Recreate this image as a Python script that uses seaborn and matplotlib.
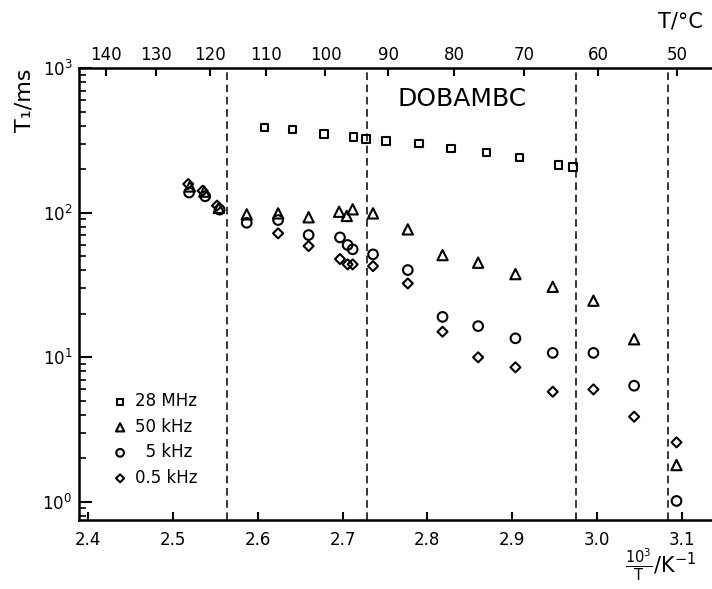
import numpy as np
import matplotlib
matplotlib.use("Agg")
import matplotlib.pyplot as plt
from matplotlib.ticker import LogLocator, NullFormatter, FixedLocator
import seaborn as sns

# Reciprocal temperature (10^3/T in K^-1) and spin-lattice relaxation time T1 (ms)
inv_T_28MHz = [2.608, 2.641, 2.678, 2.713, 2.728, 2.751, 2.790, 2.828, 2.870, 2.909, 2.955, 2.972]
T1_28MHz = [390, 378, 352, 336, 325, 315, 302, 279, 262, 242, 214, 207]

inv_T_50kHz = [2.520, 2.537, 2.554, 2.587, 2.624, 2.660, 2.696, 2.705, 2.712, 2.736,
               2.777, 2.818, 2.860, 2.904, 2.948, 2.996, 3.044, 3.094]
T1_50kHz = [152, 140, 108, 97.5, 99, 93, 101.6, 95, 105.6, 99,
            76.7, 50.9, 45.1, 37.6, 30.7, 24.6, 13.3, 1.79]

inv_T_5kHz = [2.519, 2.538, 2.555, 2.587, 2.624, 2.660, 2.697, 2.706, 2.712, 2.736,
              2.777, 2.818, 2.860, 2.904, 2.948, 2.996, 3.044, 3.094]
T1_5kHz = [138, 130, 105, 85.2, 89, 70.1, 67.5, 59.8, 55.8, 51.5,
           40.1, 19.0, 16.4, 13.5, 10.7, 10.7, 6.34, 1.01]

inv_T_05kHz = [2.518, 2.535, 2.552, 2.624, 2.660, 2.697, 2.706, 2.712, 2.736,
               2.777, 2.818, 2.860, 2.904, 2.948, 2.996, 3.044, 3.094]
T1_05kHz = [158, 142, 112, 72, 58.8, 47.8, 43.9, 43.9, 42.7,
            32.4, 15.0, 9.97, 8.5, 5.76, 5.98, 3.87, 2.57]

series_labels = ["28 MHz", "50 kHz", "\u20075 kHz", "0.5 kHz"]

# Phase transition temperatures (10^3/T)
transition_x = [2.5636, 2.7287, 2.9755, 3.084]

# Celsius ticks on the top axis
temps_C = [140, 130, 120, 110, 100, 90, 80, 70, 60, 50]
x_ticks = [2.4, 2.5, 2.6, 2.7, 2.8, 2.9, 3.0, 3.1]

sns.set_theme(style="ticks")
plt.rcParams["font.family"] = ["DejaVu Sans"]
plt.rcParams["mathtext.fontset"] = "dejavusans"
for key in ["text.color", "axes.labelcolor", "xtick.color", "ytick.color",
            "axes.edgecolor"]:
    plt.rcParams[key] = "black"

fig = plt.figure(figsize=(7.12, 5.89), dpi=100)
ax = fig.add_axes([0.1114, 0.1171, 0.8935, 0.7669])

series = [
    (inv_T_28MHz, T1_28MHz, "s", 30),
    (inv_T_50kHz, T1_50kHz, "^", 55),
    (inv_T_5kHz, T1_5kHz, "o", 48),
    (inv_T_05kHz, T1_05kHz, "D", 26),
]
for (xs, ys, m, s), lab in zip(series, series_labels):
    sns.scatterplot(x=xs, y=ys, marker=m, s=s, facecolor="none",
                    edgecolor="black", linewidth=1.5, ax=ax, label=lab, zorder=3)

for xt in transition_x:
    ax.axvline(xt, color="black", lw=1.1, ls=(0, (5, 3)), zorder=2)

ax.set_yscale("log")
ax.set_xlim(2.3895, 3.14)
ax.set_ylim(0.745, 1000)
ax.set_xticks(x_ticks)
ax.set_xticklabels([f"{v:.1f}" for v in x_ticks])
ax.yaxis.set_major_locator(LogLocator(base=10, numticks=10))
ax.yaxis.set_minor_locator(LogLocator(base=10, subs=np.arange(2, 10), numticks=20))
ax.yaxis.set_minor_formatter(NullFormatter())
ax.set_xlabel("")
ax.set_ylabel("")

ax.tick_params(axis="x", which="major", direction="in", length=6, width=1.5,
               labelsize=12, pad=8, top=False, colors="black")
ax.tick_params(axis="y", which="major", direction="in", length=9, width=1.5,
               labelsize=12, pad=5, right=False, colors="black")
ax.tick_params(axis="y", which="minor", direction="in", length=5, width=1.2,
               right=False, colors="black")
ax.tick_params(axis="x", which="minor", bottom=False, top=False)

for side in ["left", "bottom", "top"]:
    ax.spines[side].set_linewidth(1.8)
    ax.spines[side].set_color("black")
ax.spines["right"].set_visible(False)

ax_top = ax.twiny()
ax_top.set_xlim(ax.get_xlim())
ax_top.xaxis.set_major_locator(FixedLocator([1000.0 / (t + 273.15) for t in temps_C]))
ax_top.set_xticklabels([str(t) for t in temps_C])
ax_top.tick_params(axis="x", which="major", direction="in", length=6, width=1.5,
                   labelsize=12, pad=3, colors="black")
ax_top.tick_params(axis="x", which="minor", top=False, bottom=False)
for side in ["left", "bottom", "right", "top"]:
    ax_top.spines[side].set_visible(False)

leg = ax.legend(loc="upper left", bbox_to_anchor=(0.051, 0.283), frameon=False,
                fontsize=12, handlelength=1.0, handletextpad=0.4, labelspacing=0.45,
                borderpad=0, borderaxespad=0, markerscale=0.8)
for txt in leg.get_texts():
    txt.set_color("black")

fig.text(0.649, 0.832, "DOBAMBC", fontsize=18, ha="center", va="center")
fig.text(0.955, 0.963, "T/°C", fontsize=15, ha="center", va="center")
fig.text(0.035, 0.830, "T\u2081/ms", fontsize=16, ha="center", va="center", rotation=90)
fig.text(0.928, 0.040, r"$\frac{10^{3}}{\mathrm{T}}$/K$^{-1}$", fontsize=15,
         ha="center", va="center")

fig.savefig("out.png", dpi=100)
